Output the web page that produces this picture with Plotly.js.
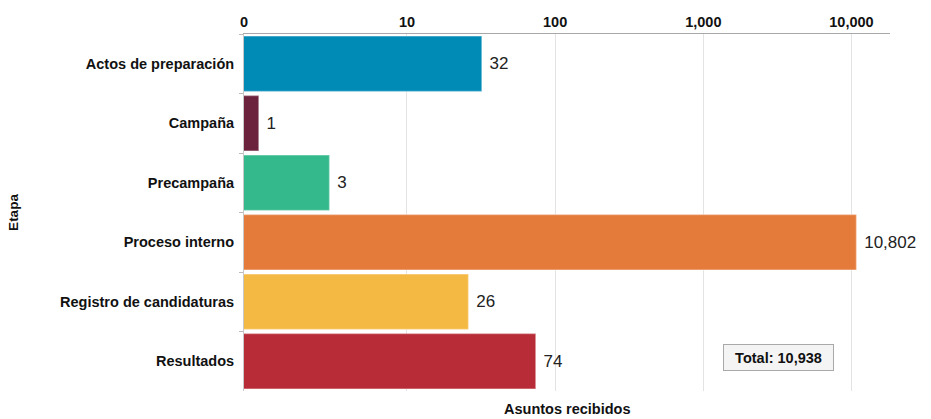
<!DOCTYPE html>
<html>
<head>
<meta charset="utf-8">
<script src="https://cdn.plot.ly/plotly-3.0.1.min.js"></script>
<style>html,body{margin:0;padding:0;background:#fff;}#chart{width:931px;height:419px;}</style>
</head>
<body>
<div id="chart"></div>
<script>
const categories = ["Actos de preparación", "Campaña", "Precampaña", "Proceso interno", "Registro de candidaturas", "Resultados"];
const values = [32, 1, 3, 10802, 26, 74];
const barColors = ["#008ab6", "#6c223d", "#33b98b", "#e57b3a", "#f4b942", "#b72c36"];
const tickValues = [10, 100, 1000, 10000];
const tickLabels = ["0", "10", "100", "1,000", "10,000"];
const totalLabel = "Total: 10,938";

const logMin = -0.1, logMax = 4.26;
const axisStart = Math.pow(10, logMin);
const font = "Liberation Sans, Arial, sans-serif";

const trace = {
  type: "bar",
  orientation: "h",
  y: categories,
  x: values,
  marker: { color: barColors, line: { color: "rgba(255,255,255,0.35)", width: 1.5 } },
  texttemplate: "\u00a0%{x:,}",
  textposition: "outside",
  textfont: { family: font, size: 17, color: "#222" },
  cliponaxis: false,
  hoverinfo: "y+x"
};

const layout = {
  width: 931, height: 419,
  margin: { l: 244, r: 41, t: 34, b: 28 },
  paper_bgcolor: "#fff", plot_bgcolor: "#fff",
  bargap: 0.07,
  showlegend: false,
  font: { family: font, color: "#111" },
  xaxis: {
    type: "log",
    side: "top",
    range: [logMin, logMax],
    tickvals: [axisStart].concat(tickValues),
    ticktext: tickLabels,
    tickfont: { family: font, size: 14.5, weight: "bold", color: "#111" },
    showgrid: true, gridcolor: "#e3e3e3", gridwidth: 1,
    showline: true, linecolor: "#a8a8a8", linewidth: 1.5,
    ticks: "", zeroline: false,
    title: { text: "" }
  },
  yaxis: {
    autorange: "reversed",
    tickfont: { family: font, size: 14.5, weight: "bold", color: "#111" },
    ticks: "outside", ticklen: 4, tickcolor: "#bbb", tickson: "boundaries",
    ticklabelstandoff: 6,
    showline: true, linecolor: "#c8c8c8", linewidth: 1,
    showgrid: false, zeroline: false,
    title: { text: "" }
  },
  annotations: [
    {
      xref: "paper", yref: "paper", x: 0.827, y: 0.095,
      xanchor: "center", yanchor: "middle",
      text: totalLabel, showarrow: false,
      font: { family: font, size: 14.5, weight: "bold", color: "#111" },
      width: 101, height: 17,
      bgcolor: "#f4f4f4", bordercolor: "#a9a9a9", borderwidth: 1, borderpad: 4
    },
    {
      xref: "paper", yref: "paper", x: 0.5, y: 0, yshift: -8,
      text: "Asuntos recibidos", showarrow: false, yanchor: "top",
      font: { family: font, size: 14.5, weight: "bold", color: "#111" }
    },
    {
      xref: "paper", yref: "paper", x: -0.357, y: 0.5,
      xanchor: "center", yanchor: "middle", textangle: -90,
      text: "Etapa", showarrow: false,
      font: { family: font, size: 13.5, weight: "bold", color: "#111" }
    }
  ]
};

Plotly.newPlot("chart", [trace], layout, { displayModeBar: false, staticPlot: true });
</script>
</body>
</html>
